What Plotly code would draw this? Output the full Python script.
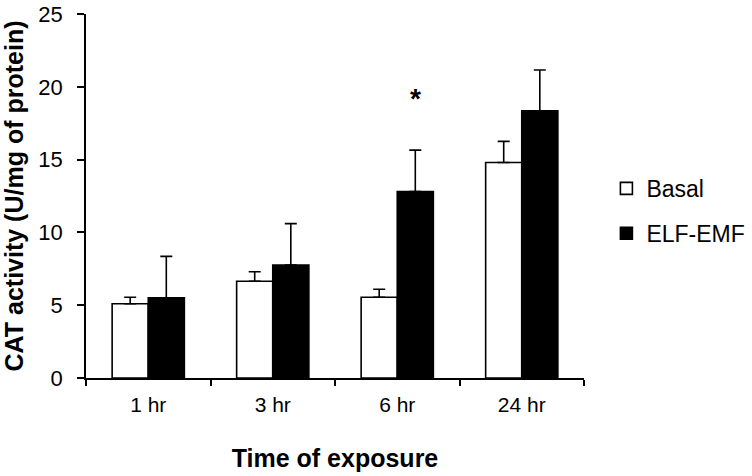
import plotly.graph_objects as go

categories = ["1 hr", "3 hr", "6 hr", "24 hr"]
basal = [5.1, 6.65, 5.55, 14.8]
basal_err = [0.45, 0.65, 0.55, 1.45]
elf = [5.5, 7.75, 12.8, 18.35]
elf_err = [2.85, 2.85, 2.85, 2.8]
y_ticks = [0, 5, 10, 15, 20, 25]

FONT = "Liberation Sans, Arial, sans-serif"

fig = go.Figure()
fig.add_trace(go.Bar(
    x=categories, y=basal, name="Basal", legendgroup="a",
    marker=dict(color="white", line=dict(color="black", width=1.6)),
    error_y=dict(type="data", symmetric=False, array=basal_err,
                 arrayminus=[0] * len(basal_err), color="black",
                 thickness=1.6, width=6),
))
fig.add_trace(go.Bar(
    x=categories, y=elf, name="ELF-EMF", legendgroup="b",
    marker=dict(color="black", line=dict(color="black", width=1.6)),
    error_y=dict(type="data", symmetric=False, array=elf_err,
                 arrayminus=[0] * len(elf_err), color="black",
                 thickness=1.6, width=6),
))

fig.add_annotation(x="6 hr", y=19.2, text="<b>*</b>", showarrow=False,
                   xshift=18, font=dict(size=28, color="black", family=FONT),
                   yanchor="middle")

fig.update_layout(
    width=752, height=476,
    margin=dict(l=86, r=168, t=14, b=98, autoexpand=False),
    paper_bgcolor="white", plot_bgcolor="white",
    barmode="group", bargap=0.42, bargroupgap=0,
    font=dict(family=FONT, size=21, color="black"),
    legend=dict(x=1.045, y=0.459, xanchor="left", yanchor="middle",
                traceorder="grouped", tracegroupgap=12,
                font=dict(size=23), itemwidth=30),
    xaxis=dict(
        type="category", tickson="boundaries", ticks="outside", ticklen=6,
        tickwidth=1.6, tickcolor="black", showline=True, linecolor="black",
        linewidth=1.6, showgrid=False, tickfont=dict(size=21),
        automargin=False, ticklabelstandoff=7,
        title=dict(text="<b>Time of exposure</b>", font=dict(size=25), standoff=34),
    ),
    yaxis=dict(
        range=[0, 25], tickvals=y_ticks, ticks="outside", ticklen=7,
        tickwidth=1.6, tickcolor="black", showline=True, linecolor="black",
        linewidth=1.6, showgrid=False, zeroline=False, tickfont=dict(size=22),
        automargin=False, ticklabelstandoff=10, ticklabeloverflow="allow",
        title=dict(text="<b>CAT activity (U/mg of protein)</b>", font=dict(size=25), standoff=18),
    ),
)

# remove the browser's default 8px body margin so the figure fills the window
fig.write_html("out.html", config={"displayModeBar": False},
               post_script="document.body.style.margin='0px';")
